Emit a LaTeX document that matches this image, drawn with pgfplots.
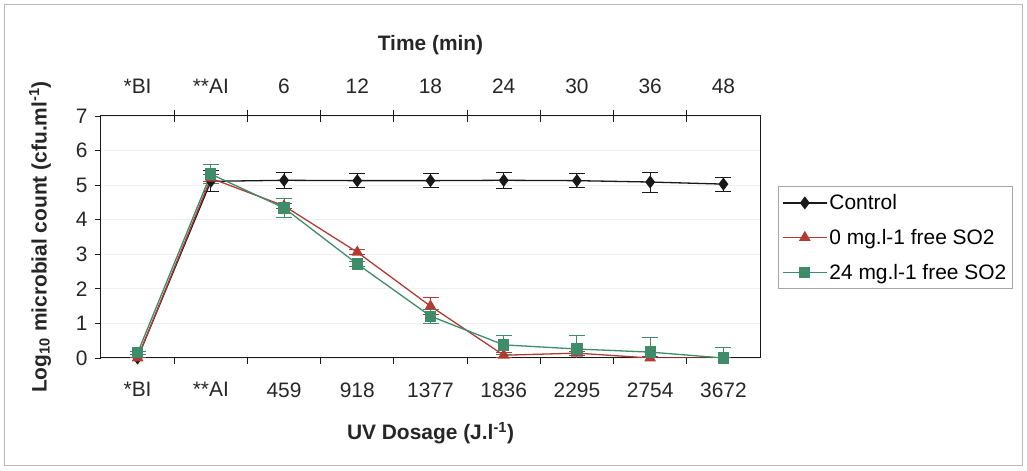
\documentclass[border=0pt]{standalone}
\usepackage{fontspec}
\setmainfont{Liberation Sans}
\usepackage{pgfplots}
\usepackage{pgfplotstable}
\pgfplotsset{compat=1.18}
\definecolor{cred}{RGB}{178,58,52}
\definecolor{cgreen}{RGB}{62,140,105}
\definecolor{cblack}{RGB}{25,25,25}

\pgfplotstableread{
x y e
1 0 0
2 5.11 0.30
3 5.14 0.24
4 5.13 0.20
5 5.13 0.20
6 5.14 0.24
7 5.13 0.20
8 5.09 0.29
9 5.03 0.20
}\controltab
\pgfplotstableread{
x y e
1 0 0
2 5.20 0.10
3 4.40 0.08
4 3.06 0.08
5 1.50 0.25
6 0.08 0.08
7 0.14 0.06
8 0.00 0.05
9 0.00 0.00
}\redtab
\pgfplotstableread{
x y e
1 0.15 0.05
2 5.32 0.28
3 4.34 0.27
4 2.72 0.08
5 1.21 0.20
6 0.38 0.28
7 0.26 0.40
8 0.17 0.43
9 0.00 0.30
}\greentab

\newcommand{\fs}{\fontsize{21}{24}\selectfont}

\begin{document}
\begin{tikzpicture}[x=1bp,y=1bp]
\path[use as bounding box] (-101,-113) rectangle (926,358);
\draw[gray!55, line width=1bp] (-96,-108) rectangle (921,353);
\begin{axis}[
  at={(0,0)}, anchor=south west,
  width=659bp, height=242bp, scale only axis,
  xmin=0.5, xmax=9.5, ymin=0, ymax=7,
  ytick={0,...,7},
  xtick={1,...,9},
  xticklabels={*BI,**AI,459,918,1377,1836,2295,2754,3672},
  every major x tick/.append style={draw=none},
  minor xtick={1.5,2.5,...,8.5},
  minor tick length=6bp, major tick length=6bp,
  tick align=outside,
  ytick pos=left,
  axis line style={cblack, line width=1bp},
  tick style={cblack, line width=0.8bp},
  ymajorgrids=true,
  major grid style={gray!12, line width=0.8bp},
  /pgf/number format/assume math mode=true,
  ticklabel style={font=\fs, text=black!85},
  xticklabel style={yshift=-15bp},
  yticklabel style={xshift=-4bp},
  xlabel={\textbf{UV Dosage (J.l\textsuperscript{-1})}},
  xlabel style={font=\fs, text=black!85, at={(axis description cs:0.5,-0.337)}, anchor=base},
  ylabel={\textbf{Log\textsubscript{10} microbial count (cfu.ml\textsuperscript{-1})}},
  ylabel style={font=\fs, text=black!85, at={(axis description cs:-0.0926,0.5)}, anchor=center},
  legend style={at={(axis description cs:1.027,0.71)}, anchor=north west,
    font=\fs, draw=gray!70, line width=0.8bp, row sep=14bp,
    inner xsep=4bp, inner ysep=6bp, cells={anchor=west}},
  legend image code/.code={%
    \draw[mark repeat=2, mark phase=2] plot coordinates {(0bp,0bp) (22bp,0bp) (44bp,0bp)};},
]
\addplot[cblack, line width=1.3bp, mark=diamond*, mark size=5.5bp, mark options={solid, fill=cblack},
  error bars/.cd, y dir=both, y explicit,
  error bar style={cblack, line width=1bp},
  error mark options={rotate=90, mark size=8bp, line width=1bp}]
  table[x=x, y=y, y error=e] {\controltab};
\addlegendentry{Control}
\addplot[cred, line width=1.3bp, mark=triangle*, mark size=5.5bp, mark options={solid, fill=cred},
  error bars/.cd, y dir=both, y explicit,
  error bar style={cred, line width=1bp},
  error mark options={rotate=90, mark size=8bp, line width=1bp}]
  table[x=x, y=y, y error=e] {\redtab};
\addlegendentry{0 mg.l-1 free SO2}
\addplot[cgreen, line width=1.3bp, mark=square*, mark size=5bp, mark options={solid, fill=cgreen},
  error bars/.cd, y dir=both, y explicit,
  error bar style={cgreen, line width=1bp},
  error mark options={rotate=90, mark size=8bp, line width=1bp}]
  table[x=x, y=y, y error=e] {\greentab};
\addlegendentry{24 mg.l-1 free SO2}
\end{axis}
\begin{axis}[
  at={(0,0)}, anchor=south west,
  width=659bp, height=242bp, scale only axis,
  xmin=0.5, xmax=9.5, ymin=0, ymax=7,
  axis x line*=top, axis y line=none,
  xtick={1,...,9},
  xticklabels={*BI,**AI,6,12,18,24,30,36,48},
  every major x tick/.append style={draw=none},
  minor xtick={1.5,2.5,...,8.5},
  minor tick length=12bp, tick align=center,
  axis line style={cblack, line width=1bp},
  tick style={cblack, line width=0.8bp},
  ticklabel style={font=\fs, text=black!85},
  xticklabel style={yshift=17bp},
  xlabel={\textbf{Time (min)}},
  xlabel style={font=\fs, text=black!85, at={(axis description cs:0.5,1.271)}, anchor=base},
]
\addplot[draw=none] coordinates {(1,0)};
\end{axis}
\end{tikzpicture}
\end{document}
